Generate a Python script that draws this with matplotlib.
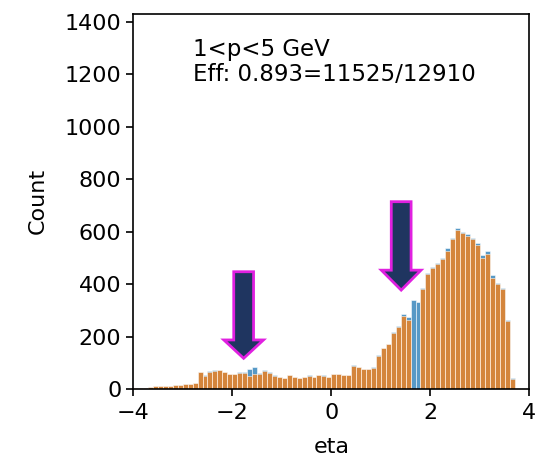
import numpy as np
import matplotlib
matplotlib.use("Agg")
import matplotlib.pyplot as plt
from matplotlib.patches import FancyArrow

# ---- data ----
bin_edges = np.round(np.linspace(-4.0, 3.7, 78), 2)

pass_counts = [3, 4, 5, 6, 10, 11, 12, 13, 16, 17, 18, 20, 22,
               64, 51, 66, 70, 72, 64, 57, 57, 61, 62, 51, 57, 57, 68, 61, 51, 44,
               41, 53, 44, 41, 44, 51, 44, 53, 51, 44,
               57, 57, 53, 53, 89, 83, 76, 76, 80, 125, 155, 170, 215, 235, 280, 262,
               0, 0, 381, 438, 460, 476, 495, 527, 571, 605, 595, 585, 570, 550,
               500, 514, 425, 400, 381, 258, 40]

total_counts = [3, 4, 5, 6, 10, 11, 12, 13, 16, 17, 18, 20, 22,
                66, 52, 68, 72, 74, 66, 58, 58, 63, 66, 76, 83, 60, 72, 63, 52, 45,
                42, 54, 45, 42, 45, 52, 45, 54, 52, 45,
                58, 58, 54, 54, 91, 85, 78, 78, 82, 128, 158, 173, 218, 240, 285, 275,
                340, 330, 386, 442, 465, 480, 500, 537, 576, 612, 600, 590, 574, 555,
                510, 525, 435, 405, 386, 262, 42]

label_text = "1<p<5 GeV\nEff: 0.893=11525/12910"
x_ticks = [-4, -2, 0, 2, 4]
y_ticks = [0, 200, 400, 600, 800, 1000, 1200, 1400]

# ---- figure ----
fig = plt.figure(figsize=(5.37, 4.62), dpi=100)
ax = fig.add_axes([0.248, 0.158, 0.738, 0.812])

lefts = bin_edges[:-1]
widths = np.diff(bin_edges)
ax.bar(lefts, total_counts, width=widths, align='edge', color='#1f77b4',
       alpha=0.75, edgecolor='white', linewidth=0.5)
ax.bar(lefts, pass_counts, width=widths, align='edge', color='#ff7f0e',
       alpha=0.75, edgecolor='white', linewidth=0.5)

ax.set_xlim(-4, 4)
ax.set_ylim(0, 1430)
ax.set_xticks(x_ticks)
ax.set_yticks(y_ticks)
ax.tick_params(labelsize=16, length=5, width=1.2)
ax.tick_params(axis='x', pad=5)
ax.set_xlabel("eta", fontsize=16, labelpad=10)
ax.set_ylabel("Count", fontsize=16, labelpad=12)
for s in ax.spines.values():
    s.set_linewidth(1.2)

ax.text(0.15, 0.935, label_text, transform=ax.transAxes, va='top', ha='left',
        fontsize=16.5, linespacing=1.1)

# arrows
for xc, ytop, ytip, hl in [(-1.77, 447, 117, 70), (1.41, 714, 377, 76)]:
    arr = FancyArrow(xc, ytop, 0, ytip - ytop, width=0.4, head_width=0.8,
                     head_length=hl, length_includes_head=True,
                     facecolor='#1f3560', edgecolor='#e020e0', linewidth=2, zorder=5)
    ax.add_patch(arr)

fig.savefig("out.png", dpi=100)
